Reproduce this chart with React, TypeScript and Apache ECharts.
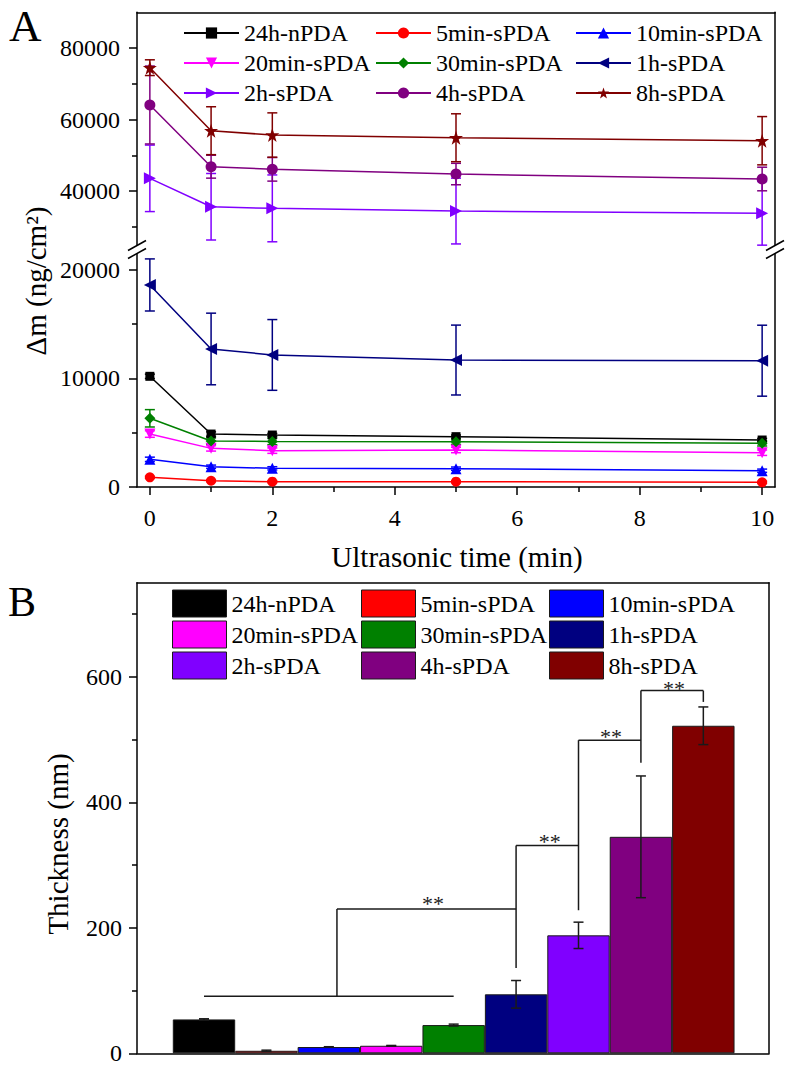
import React, { useEffect, useRef } from 'react';
import * as echarts from 'echarts';

const FONT = "'Liberation Serif', 'Times New Roman', serif";

// ---------- shared groups ----------
const groupNames = ['24h-nPDA', '5min-sPDA', '10min-sPDA', '20min-sPDA', '30min-sPDA', '1h-sPDA', '2h-sPDA', '4h-sPDA', '8h-sPDA'];
const groupColors = ['#000000', '#FF0000', '#0000FF', '#FF00FF', '#008000', '#000080', '#8000FF', '#800080', '#800000'];

// ---------- panel A data ----------
const timeMin = [0, 1, 2, 5, 10];
const dm24hN = [10200, 4880, 4790, 4640, 4330];
const dm5min = [890, 580, 490, 490, 430];
const dm10min = [2550, 1870, 1720, 1690, 1500];
const dm20min = [4880, 3560, 3350, 3410, 3160];
const dm30min = [6330, 4240, 4200, 4180, 4030];
const dm1h = [18620, 12720, 12170, 11700, 11640];
const dm2h = [43550, 35600, 35150, 34400, 33760];
const dm4h = [64060, 46800, 46070, 44750, 43360];
const dm8h = [74500, 56870, 55660, 54900, 54070];

const err24hN = [200, 200, 150, 150, 150];
const err5min = [100, 100, 100, 100, 100];
const err10min = [200, 150, 150, 150, 150];
const err20min = [300, 250, 250, 250, 250];
const err30min = [800, 300, 300, 250, 250];
const err1h = [2400, 3300, 3260, 3220, 3270];
const err2h = [9300, 9300, 9350, 9200, 8900];
const err4h = [10900, 3200, 3300, 3000, 3300];
const err8h = [2200, 6700, 6200, 6700, 6750];

const upperGroups = ['2h-sPDA', '4h-sPDA', '8h-sPDA'];

const yUpperLabels = [40000, 60000, 80000];
const yUpperMinor = [30000, 50000, 70000];
const yLowerLabels = [0, 10000, 20000];
const yLowerMinor = [5000, 15000];
const xLabels = [0, 2, 4, 6, 8, 10];
const xMinor = [1, 3, 5, 7, 9];

// ---------- panel B data ----------
const barPositions = [1, 2, 3, 4, 5, 6, 7, 8, 9];
const thicknessValues = [54, 4, 10, 12, 45, 94, 188, 345, 522];
const thicknessErrors = [1, 1, 0.5, 0.5, 1.5, 22, 21, 97, 30];
const yBLabels = [0, 200, 400, 600];
const yBMinor = [100, 300, 500, 700];
// significance brackets: [x1, y1, x2, y2]
const bracketSegments = [
  [1, 91, 5, 91],
  [3.13, 91, 3.13, 230],
  [3.13, 230, 6, 230],
  [6, 136, 6, 331],
  [6, 331, 7, 331],
  [7, 228, 7, 499],
  [7, 499, 8, 499],
  [8, 463, 8, 578],
  [8, 578, 9, 578],
  [9, 578, 9, 560],
];
const starMarks = [
  [4.67, 238, '**'],
  [6.54, 338, '**'],
  [7.52, 505, '**'],
  [8.53, 581, '**'],
];

// ---------- styles ----------
const STAR = 'path://M12,0 L14.9,8.6 L24,8.6 L16.7,14 L19.4,22.8 L12,17.5 L4.6,22.8 L7.3,14 L0,8.6 L9.1,8.6 Z';
const markerSymbols = ['rect', 'circle', 'triangle', 'triangle', 'diamond', 'triangle', 'triangle', 'circle', STAR];
const markerRotations = [0, 0, 0, 180, 0, 90, -90, 0, 0];
const markerSizes = [9, 10, 11, 11, 11, 12, 12, 11, 14];

const massValues = [dm24hN, dm5min, dm10min, dm20min, dm30min, dm1h, dm2h, dm4h, dm8h];
const massErrors = [err24hN, err5min, err10min, err20min, err30min, err1h, err2h, err4h, err8h];

const axisLineStyle = { color: '#000', width: 1.5 };
const labelStyle = { fontFamily: FONT, fontSize: 24, color: '#000' };
const plainNumber = (v: number) => String(v);
const INK = '#1a1a1a';

function errorBarRender(color: string, cap: number) {
  return (params: any, api: any) => {
    const x = api.value(0);
    const y = api.value(1);
    const e = api.value(2);
    const top = api.coord([x, y + e]);
    const bot = api.coord([x, y - e]);
    const style = { stroke: color, lineWidth: 1.5 };
    return {
      type: 'group',
      children: [
        { type: 'line', shape: { x1: top[0], y1: top[1], x2: bot[0], y2: bot[1] }, style },
        { type: 'line', shape: { x1: top[0] - cap, y1: top[1], x2: top[0] + cap, y2: top[1] }, style },
        { type: 'line', shape: { x1: bot[0] - cap, y1: bot[1], x2: bot[0] + cap, y2: bot[1] }, style },
      ],
    };
  };
}

function buildOptionA(): any {
  const xMin = -0.21;
  const xMax = 10.21;
  const series: any[] = [];
  groupNames.forEach((name, i) => {
    const upper = upperGroups.indexOf(name) >= 0;
    const xi = upper ? 0 : 1;
    const yi = upper ? 0 : 3;
    series.push({
      type: 'line',
      name,
      xAxisIndex: xi,
      yAxisIndex: yi,
      data: timeMin.map((t, k) => [t, massValues[i][k]]),
      symbol: markerSymbols[i],
      symbolSize: markerSizes[i],
      symbolRotate: markerRotations[i],
      itemStyle: { color: groupColors[i] },
      lineStyle: { color: groupColors[i], width: 1.5 },
      z: 3,
      clip: false,
    });
    series.push({
      type: 'custom',
      name: name + ' error',
      xAxisIndex: xi,
      yAxisIndex: yi,
      data: timeMin.map((t, k) => [t, massValues[i][k], massErrors[i][k]]),
      encode: { x: 0, y: 1 },
      itemStyle: { color: groupColors[i] },
      renderItem: errorBarRender(groupColors[i], 5),
      z: 2,
      silent: true,
    });
  });

  const legendCols = [
    { names: ['24h-nPDA', '20min-sPDA', '2h-sPDA'], left: 183 },
    { names: ['5min-sPDA', '30min-sPDA', '4h-sPDA'], left: 375 },
    { names: ['10min-sPDA', '1h-sPDA', '8h-sPDA'], left: 575 },
  ];

  return {
    animation: false,
    backgroundColor: 'transparent',
    grid: [
      { left: 137, right: 17, top: 12.25, height: 232.4 },
      { left: 137, right: 17, top: 253.7, height: 233.3 },
    ],
    legend: legendCols.map((c) => ({
      data: c.names,
      orient: 'vertical',
      left: c.left,
      top: 21,
      padding: 0,
      itemWidth: 55,
      itemHeight: 14,
      itemGap: 6,
      selectedMode: false,
      textStyle: { ...labelStyle, lineHeight: 24 },
    })),
    xAxis: [
      {
        gridIndex: 0, type: 'value', min: xMin, max: xMax, position: 'top',
        axisLine: { show: true, onZero: false, lineStyle: axisLineStyle },
        axisTick: { show: false }, axisLabel: { show: false }, splitLine: { show: false },
      },
      {
        gridIndex: 1, type: 'value', min: xMin, max: xMax, position: 'bottom',
        axisLine: { show: true, onZero: false, lineStyle: axisLineStyle },
        axisTick: { show: true, customValues: xLabels, length: 8, lineStyle: axisLineStyle },
        axisLabel: { show: true, customValues: xLabels, margin: 19, formatter: plainNumber, ...labelStyle },
        splitLine: { show: false },
      },
      {
        gridIndex: 1, type: 'value', min: xMin, max: xMax, position: 'bottom',
        axisLine: { show: false, onZero: false },
        axisTick: { show: true, customValues: xMinor, length: 5, lineStyle: axisLineStyle },
        axisLabel: { show: false }, splitLine: { show: false },
      },
    ],
    yAxis: [
      {
        gridIndex: 0, type: 'value', min: 25000, max: 90000, position: 'left',
        axisLine: { show: true, onZero: false, lineStyle: axisLineStyle },
        axisTick: { show: true, customValues: yUpperLabels, length: 8, lineStyle: axisLineStyle },
        axisLabel: { show: true, customValues: yUpperLabels, margin: 17, formatter: plainNumber, ...labelStyle },
        splitLine: { show: false },
      },
      {
        gridIndex: 0, type: 'value', min: 25000, max: 90000, position: 'left',
        axisLine: { show: false, onZero: false },
        axisTick: { show: true, customValues: yUpperMinor, length: 5, lineStyle: axisLineStyle },
        axisLabel: { show: false }, splitLine: { show: false },
      },
      {
        gridIndex: 0, type: 'value', min: 25000, max: 90000, position: 'right',
        axisLine: { show: true, onZero: false, lineStyle: axisLineStyle },
        axisTick: { show: false }, axisLabel: { show: false }, splitLine: { show: false },
      },
      {
        gridIndex: 1, type: 'value', min: 0, max: 21500, position: 'left',
        axisLine: { show: true, onZero: false, lineStyle: axisLineStyle },
        axisTick: { show: true, customValues: yLowerLabels, length: 8, lineStyle: axisLineStyle },
        axisLabel: { show: true, customValues: yLowerLabels, margin: 17, formatter: plainNumber, ...labelStyle },
        splitLine: { show: false },
      },
      {
        gridIndex: 1, type: 'value', min: 0, max: 21500, position: 'left',
        axisLine: { show: false, onZero: false },
        axisTick: { show: true, customValues: yLowerMinor, length: 5, lineStyle: axisLineStyle },
        axisLabel: { show: false }, splitLine: { show: false },
      },
      {
        gridIndex: 1, type: 'value', min: 0, max: 21500, position: 'right',
        axisLine: { show: true, onZero: false, lineStyle: axisLineStyle },
        axisTick: { show: false }, axisLabel: { show: false }, splitLine: { show: false },
      },
    ],
    graphic: [
      { type: 'text', x: 9, y: 26, style: { text: 'A', fontFamily: FONT, fontSize: 45, fill: '#000', align: 'left', verticalAlign: 'middle' } },
      { type: 'text', x: 36, y: 281, rotation: Math.PI / 2, style: { text: 'Δm (ng/cm²)', fontFamily: FONT, fontSize: 29, fill: '#000', align: 'center', verticalAlign: 'middle' } },
      { type: 'text', x: 457, y: 557, style: { text: 'Ultrasonic time (min)', fontFamily: FONT, fontSize: 29, fill: '#000', align: 'center', verticalAlign: 'middle' } },
      { type: 'line', shape: { x1: 128, y1: 250.5, x2: 146, y2: 240.5 }, style: { stroke: '#000', lineWidth: 1.5 } },
      { type: 'line', shape: { x1: 128, y1: 258.5, x2: 146, y2: 248.5 }, style: { stroke: '#000', lineWidth: 1.5 } },
      { type: 'line', shape: { x1: 766, y1: 250.5, x2: 784, y2: 240.5 }, style: { stroke: '#000', lineWidth: 1.5 } },
      { type: 'line', shape: { x1: 766, y1: 258.5, x2: 784, y2: 248.5 }, style: { stroke: '#000', lineWidth: 1.5 } },
    ],
    series,
  };
}

// Panel B is drawn in a div whose top edge is at page y = 560
function buildOptionB(): any {
  const xMin = -0.0734;
  const xMax = 10.052;
  const series: any[] = [];
  series.push({
    type: 'bar',
    name: 'Thickness',
    barWidth: 62.4,
    data: barPositions.map((p, i) => ({
      value: [p, thicknessValues[i]],
      itemStyle: { color: groupColors[i], borderColor: INK, borderWidth: 1 },
    })),
    z: 2,
  });
  series.push({
    type: 'custom',
    name: 'Thickness error',
    data: barPositions.map((p, i) => [p, thicknessValues[i], thicknessErrors[i]]),
    encode: { x: 0, y: 1 },
    itemStyle: { color: INK },
    renderItem: errorBarRender(INK, 5),
    z: 3,
    silent: true,
  });
  series.push({
    type: 'custom',
    name: 'brackets',
    data: bracketSegments,
    encode: { x: [0, 2], y: [1, 3] },
    itemStyle: { color: INK },
    renderItem: (params: any, api: any) => {
      const p1 = api.coord([api.value(0), api.value(1)]);
      const p2 = api.coord([api.value(2), api.value(3)]);
      return { type: 'line', shape: { x1: p1[0], y1: p1[1], x2: p2[0], y2: p2[1] }, style: { stroke: INK, lineWidth: 1.5 } };
    },
    z: 4,
    silent: true,
  });
  series.push({
    type: 'custom',
    name: 'stars',
    data: starMarks,
    encode: { x: 0, y: 1 },
    itemStyle: { color: INK },
    renderItem: (params: any, api: any) => {
      const p = api.coord([api.value(0), api.value(1)]);
      return {
        type: 'text', x: p[0], y: p[1],
        style: { text: String(starMarks[params.dataIndex][2]), fontFamily: FONT, fontSize: 22, fill: INK, align: 'center', verticalAlign: 'middle' },
      };
    },
    z: 4,
    silent: true,
  });
  groupNames.forEach((name, i) => {
    series.push({ type: 'scatter', name, data: [], itemStyle: { color: groupColors[i], opacity: 1 } });
  });

  const legendCols = [
    { names: ['24h-nPDA', '20min-sPDA', '2h-sPDA'], left: 172 },
    { names: ['5min-sPDA', '30min-sPDA', '4h-sPDA'], left: 361 },
    { names: ['10min-sPDA', '1h-sPDA', '8h-sPDA'], left: 549 },
  ];

  return {
    animation: false,
    backgroundColor: 'transparent',
    grid: { left: 137, right: 23, top: 22.7, height: 470.6 },
    legend: legendCols.map((c) => ({
      data: c.names,
      orient: 'vertical',
      left: c.left,
      top: 29.5,
      padding: 0,
      icon: 'rect',
      itemWidth: 54,
      itemHeight: 27,
      itemGap: 3,
      selectedMode: false,
      itemStyle: { borderColor: INK, borderWidth: 1, opacity: 1 },
      textStyle: { ...labelStyle, lineHeight: 18 },
    })),
    xAxis: [
      {
        type: 'value', min: xMin, max: xMax, position: 'bottom',
        axisLine: { show: true, onZero: false, lineStyle: axisLineStyle },
        axisTick: { show: false }, axisLabel: { show: false }, splitLine: { show: false },
      },
      {
        type: 'value', min: xMin, max: xMax, position: 'top',
        axisLine: { show: true, onZero: false, lineStyle: axisLineStyle },
        axisTick: { show: false }, axisLabel: { show: false }, splitLine: { show: false },
      },
    ],
    yAxis: [
      {
        type: 'value', min: 0, max: 750, position: 'left',
        axisLine: { show: true, onZero: false, lineStyle: axisLineStyle },
        axisTick: { show: true, customValues: yBLabels, length: 8, lineStyle: axisLineStyle },
        axisLabel: { show: true, customValues: yBLabels, margin: 15, formatter: plainNumber, ...labelStyle },
        splitLine: { show: false },
      },
      {
        type: 'value', min: 0, max: 750, position: 'left',
        axisLine: { show: false, onZero: false },
        axisTick: { show: true, customValues: yBMinor, length: 5, lineStyle: axisLineStyle },
        axisLabel: { show: false }, splitLine: { show: false },
      },
      {
        type: 'value', min: 0, max: 750, position: 'right',
        axisLine: { show: true, onZero: false, lineStyle: axisLineStyle },
        axisTick: { show: false }, axisLabel: { show: false }, splitLine: { show: false },
      },
    ],
    graphic: [
      { type: 'text', x: 8, y: 42, style: { text: 'B', fontFamily: FONT, fontSize: 42, fill: '#000', align: 'left', verticalAlign: 'middle' } },
      { type: 'text', x: 58, y: 284, rotation: Math.PI / 2, style: { text: 'Thickness (nm)', fontFamily: FONT, fontSize: 29, fill: '#000', align: 'center', verticalAlign: 'middle' } },
    ],
    series,
  };
}

export default function App() {
  const refA = useRef<HTMLDivElement>(null);
  const refB = useRef<HTMLDivElement>(null);
  useEffect(() => {
    const chartA = echarts.init(refA.current as HTMLDivElement, undefined, { renderer: 'svg' });
    const chartB = echarts.init(refB.current as HTMLDivElement, undefined, { renderer: 'svg' });
    chartA.setOption(buildOptionA());
    chartB.setOption(buildOptionB());
    return () => {
      chartA.dispose();
      chartB.dispose();
    };
  }, []);
  return (
    <div style={{ position: 'absolute', left: 0, top: 0, width: 792, height: 1067, background: '#fff' }}>
      <div ref={refA} style={{ position: 'absolute', left: 0, top: 0, width: 792, height: 580 }} />
      <div ref={refB} style={{ position: 'absolute', left: 0, top: 560, width: 792, height: 507 }} />
    </div>
  );
}
